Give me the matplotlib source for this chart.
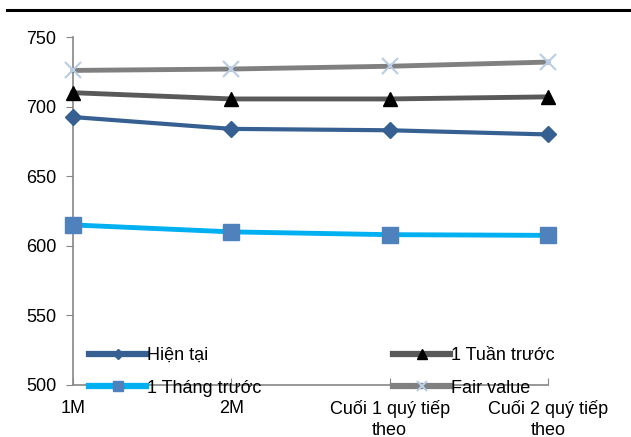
import matplotlib.pyplot as plt
import matplotlib.lines as mlines

plt.rcParams['font.family'] = ['Liberation Sans', 'DejaVu Sans']

# --- Data
categories = ["1M", "2M", "Cuối 1 quý tiếp\ntheo", "Cuối 2 quý tiếp\ntheo"]
hien_tai = [692.5, 684, 683, 680]
tuan_truoc = [710, 705.5, 705.5, 707]
thang_truoc = [615, 610, 608, 607.5]
fair_value = [726, 727, 729, 732]

x = list(range(len(categories)))
fs = 13

fig = plt.figure(figsize=(6.31, 4.37), dpi=100)
ax = fig.add_axes([0.1157, 0.119, 0.7528, 0.7963])

# --- Lines
l1, = ax.plot(x, hien_tai, color="#366092", lw=3, marker="D", ms=8,
              mfc="#366092", mec="#366092", label="Hiện tại", zorder=3)
l2, = ax.plot(x, tuan_truoc, color="#595959", lw=3.5, marker="^", ms=10,
              mfc="black", mec="black", label="1 Tuần trước", zorder=3)
l3, = ax.plot(x, thang_truoc, color="#00B0F0", lw=3.5, marker="s", ms=12,
              mfc="#4F81BD", mec="#4F81BD", label="1 Tháng trước", zorder=3)
l4, = ax.plot(x, fair_value, color="#808080", lw=3.5, marker="x", ms=11,
              mew=1.5, mec="#B9CDE5", label="Fair value", zorder=3)

# --- Axes styling
ax.set_xlim(0, 3)
ax.set_ylim(500, 750)
ax.set_yticks([500, 550, 600, 650, 700, 750])
ax.set_xticks(x)
ax.set_xticklabels(categories, fontsize=fs, linespacing=1.25)
ax.tick_params(axis="y", labelsize=fs, direction="out", length=5, color="#868686", pad=7)
ax.tick_params(axis="x", direction="in", length=5, color="#868686", pad=11)
for s in ["top", "right"]:
    ax.spines[s].set_visible(False)
for s in ["left", "bottom"]:
    ax.spines[s].set_color("#868686")
    ax.spines[s].set_linewidth(1.2)
    ax.spines[s].set_clip_on(False)
for ln in [l1, l2, l3, l4]:
    ln.set_clip_on(False)

# --- Legend (2 columns, inside bottom of axes)
leg = ax.legend(handles=[l1, l3, l2, l4], ncol=2, frameon=False, fontsize=fs,
                handlelength=3.15, handletextpad=0.05, columnspacing=7.3,
                labelspacing=0.85, markerscale=0.65, loc="lower left",
                bbox_to_anchor=(0.0, -0.08), borderaxespad=0.5)
leg.set_zorder(5)
for h in leg.legend_handles:
    h.set_linewidth(4.5)

# --- Top rule
fig.add_artist(mlines.Line2D([0.011, 1.0], [0.977, 0.977], color="black", lw=2.2))

fig.savefig("out.png", dpi=100)
